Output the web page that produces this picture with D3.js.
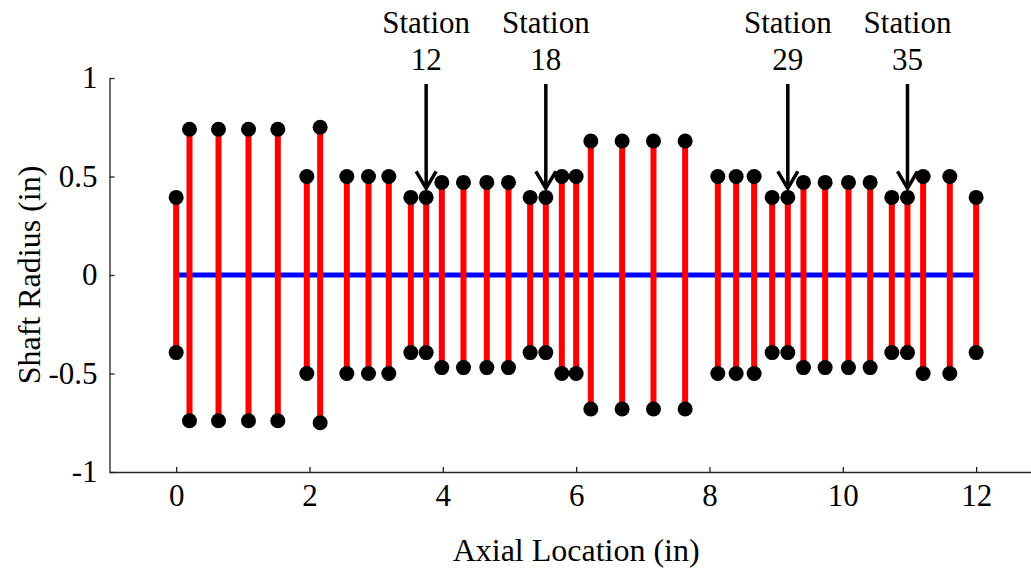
<!DOCTYPE html>
<html lang="en">
<head>
    <meta charset="UTF-8">
    <title>Shaft radius stem plot</title>
    <script src="https://cdnjs.cloudflare.com/ajax/libs/d3/7.8.5/d3.min.js"></script>
    <style>
        body { margin: 0; background: #fff; }
        svg { display: block; }
        text { font-family: "Liberation Serif", "Times New Roman", serif; fill: #000; }
        .axis path, .axis line { stroke: #222; stroke-width: 1.3px; }
    </style>
</head>
<body>
<svg width="1031" height="569"></svg>
<script>
    // axial station locations (in) and shaft radius at each station (in)
    var stationX = [0, 0.2, 0.635, 1.085, 1.525, 1.96, 2.16, 2.56, 2.885, 3.19,
        3.52, 3.75, 3.985, 4.31, 4.66, 4.985, 5.31, 5.545, 5.785, 6.0,
        6.22, 6.69, 7.16, 7.635, 8.125, 8.4, 8.67, 8.94, 9.175, 9.41,
        9.735, 10.085, 10.41, 10.735, 10.97, 11.205, 11.605, 12.0];
    var radius = [0.394, 0.74, 0.74, 0.74, 0.74, 0.5, 0.75, 0.5, 0.5, 0.5,
        0.394, 0.394, 0.47, 0.47, 0.47, 0.47, 0.394, 0.394, 0.5, 0.5,
        0.68, 0.68, 0.68, 0.68, 0.5, 0.5, 0.5, 0.394, 0.394, 0.47,
        0.47, 0.47, 0.47, 0.394, 0.394, 0.5, 0.5, 0.394];
    // stations that get an arrow (1-based)
    var markedStations = [12, 18, 29, 35];
    var xTicks = [0, 2, 4, 6, 8, 10, 12];
    var yTicks = [-1, -0.5, 0, 0.5, 1];

    var svg = d3.select("svg");

    var x = d3.scaleLinear().domain([-1, 13]).range([109.5, 1042.8]);
    var y = d3.scaleLinear().domain([-1, 1]).range([472, 78]);

    // axes, ticks pointing inward like matlab
    svg.append("g")
        .attr("class", "axis")
        .attr("transform", "translate(0,472)")
        .call(d3.axisBottom(x).tickValues(xTicks).tickFormat(String).tickSizeInner(-5).tickSizeOuter(0).tickPadding(12))
        .call(function (g) {
            g.selectAll("text").style("font-size", "31px").attr("dy", "0.71em");
        });

    svg.append("g")
        .attr("class", "axis")
        .attr("transform", "translate(109.5,0)")
        .call(d3.axisLeft(y).tickValues(yTicks).tickFormat(String).tickSizeInner(-5).tickSizeOuter(0).tickPadding(12))
        .call(function (g) {
            g.selectAll("text").style("font-size", "31px");
        });

    // centre line
    svg.append("line")
        .attr("x1", x(d3.min(stationX)))
        .attr("x2", x(d3.max(stationX)))
        .attr("y1", y(0))
        .attr("y2", y(0))
        .attr("stroke", "#0000ff")
        .attr("stroke-width", 5);

    var data = stationX.map(function (d, i) {
        return {x: d, r: radius[i], id: i + 1};
    });

    // red stems from -r to r
    svg.selectAll(".stem")
        .data(data)
        .enter().append("line")
        .attr("class", "stem")
        .attr("x1", function (d) { return x(d.x); })
        .attr("x2", function (d) { return x(d.x); })
        .attr("y1", function (d) { return y(d.r); })
        .attr("y2", function (d) { return y(-d.r); })
        .attr("stroke", "#ff0000")
        .attr("stroke-width", 6);

    // dots at both ends
    var ends = [];
    data.forEach(function (d) {
        ends.push({x: d.x, v: d.r});
        ends.push({x: d.x, v: -d.r});
    });
    svg.selectAll(".dot")
        .data(ends)
        .enter().append("circle")
        .attr("class", "dot")
        .attr("cx", function (d) { return x(d.x); })
        .attr("cy", function (d) { return y(d.v); })
        .attr("r", 7.5)
        .attr("fill", "#000");

    // station arrows and labels
    var marked = data.filter(function (d) { return markedStations.indexOf(d.id) >= 0; });
    var ann = svg.selectAll(".ann")
        .data(marked)
        .enter().append("g")
        .attr("class", "ann")
        .attr("transform", function (d) { return "translate(" + x(d.x) + ",0)"; });

    ann.append("line")
        .attr("x1", 0).attr("x2", 0)
        .attr("y1", 84)
        .attr("y2", function (d) { return y(d.r) - 9; })
        .attr("stroke", "#000")
        .attr("stroke-width", 3.5);

    ann.append("path")
        .attr("d", function (d) {
            var tip = y(d.r) - 9;
            return "M-10," + (tip - 17) + "L0," + tip + "L10," + (tip - 17);
        })
        .attr("fill", "none")
        .attr("stroke", "#000")
        .attr("stroke-width", 3.5);

    ann.append("text")
        .attr("y", 33)
        .attr("text-anchor", "middle")
        .style("font-size", "31px")
        .text("Station");

    ann.append("text")
        .attr("y", 70)
        .attr("text-anchor", "middle")
        .style("font-size", "31px")
        .text(function (d) { return d.id; });

    // axis titles
    svg.append("text")
        .attr("x", x(6))
        .attr("y", 561)
        .attr("text-anchor", "middle")
        .style("font-size", "32px")
        .text("Axial Location (in)");

    svg.append("text")
        .attr("transform", "translate(40," + y(0) + ") rotate(-90)")
        .attr("text-anchor", "middle")
        .style("font-size", "32px")
        .text("Shaft Radius (in)");
</script>
</body>
</html>
